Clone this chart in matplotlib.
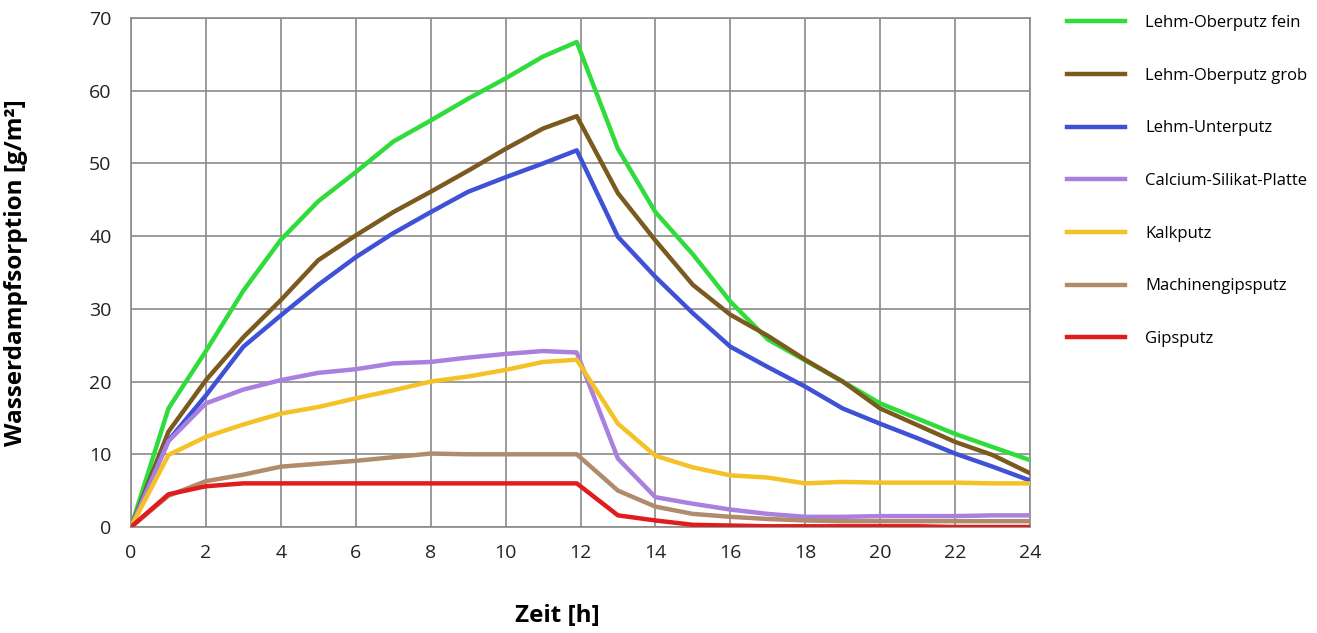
import matplotlib
matplotlib.use("Agg")
import matplotlib.pyplot as plt

hours = [0, 1, 2, 3, 4, 5, 6, 7, 8, 9, 10, 11, 11.9, 13, 14, 15, 16, 17, 18, 19, 20, 21, 22, 23, 24]

lehm_ober_fein = [0, 16.3, 24.2, 32.5, 39.5, 44.8, 48.8, 53.0, 55.9, 58.9, 61.7, 64.7, 66.7,
                  52.0, 43.3, 37.5, 31.0, 25.8, 22.9, 20.0, 17.0, 14.9, 12.8, 11.0, 9.2]
lehm_ober_grob = [0, 13.1, 20.2, 26.1, 31.2, 36.7, 40.1, 43.3, 46.1, 49.0, 52.0, 54.8, 56.5,
                  45.9, 39.4, 33.3, 29.2, 26.3, 23.0, 20.0, 16.3, 14.0, 11.7, 9.9, 7.4]
lehm_unter = [0, 11.9, 18.1, 24.8, 29.1, 33.3, 37.1, 40.4, 43.3, 46.1, 48.1, 50.0, 51.8,
              39.9, 34.4, 29.4, 24.8, 22.0, 19.3, 16.3, 14.2, 12.2, 10.1, 8.3, 6.4]
calcium_silikat = [0, 11.8, 17.0, 18.9, 20.2, 21.2, 21.7, 22.5, 22.7, 23.3, 23.8, 24.2, 24.0,
                   9.4, 4.1, 3.2, 2.4, 1.8, 1.4, 1.4, 1.5, 1.5, 1.5, 1.6, 1.6]
kalkputz = [0, 9.9, 12.4, 14.1, 15.6, 16.5, 17.7, 18.8, 20.0, 20.7, 21.6, 22.7, 23.0,
            14.2, 9.8, 8.2, 7.1, 6.8, 6.0, 6.2, 6.1, 6.1, 6.1, 6.0, 6.0]
machinengips = [0, 4.3, 6.3, 7.2, 8.3, 8.7, 9.1, 9.6, 10.1, 10.0, 10.0, 10.0, 10.0,
                5.0, 2.8, 1.8, 1.4, 1.1, 0.9, 0.8, 0.8, 0.8, 0.8, 0.8, 0.8]
gipsputz = [0, 4.5, 5.6, 6.0, 6.0, 6.0, 6.0, 6.0, 6.0, 6.0, 6.0, 6.0, 6.0,
            1.6, 0.9, 0.3, 0.2, 0.1, 0.1, 0.1, 0.1, 0.1, 0.0, 0.0, 0.0]

labels = ["Lehm-Oberputz fein", "Lehm-Oberputz grob", "Lehm-Unterputz",
          "Calcium-Silikat-Platte", "Kalkputz", "Machinengipsputz", "Gipsputz"]
series = [lehm_ober_fein, lehm_ober_grob, lehm_unter, calcium_silikat, kalkputz, machinengips, gipsputz]
colors = ["#2fdc3c", "#7a5a1f", "#3f52d6", "#a97fe0", "#f4c226", "#b08b6c", "#e01c1c"]

xticks = list(range(0, 25, 2))
yticks = list(range(0, 71, 10))

plt.rcParams['font.family'] = ['Open Sans', 'DejaVu Sans']

fig = plt.figure(figsize=(13.17, 6.33), dpi=100)
ax = fig.add_axes([131/1317, 1-527/633, (1030-131)/1317, (527-18)/633])

for ys, c, lab in zip(series, colors, labels):
    ax.plot(hours, ys, color=c, lw=3.2, label=lab, solid_joinstyle='round', zorder=3)

ax.set_xlim(0, 24)
ax.set_ylim(0, 70)
ax.set_xticks(xticks)
ax.set_yticks(yticks)
ax.grid(True, color="#8a8a8a", lw=1.2, zorder=0)
for s in ax.spines.values():
    s.set_color("#8a8a8a")
    s.set_linewidth(1.2)
ax.tick_params(length=0, labelsize=14, pad=12, colors="#222222")
ax.tick_params(axis='y', pad=14)

ax.set_ylabel("Wasserdampfsorption [g/m²]", fontsize=17.5, fontweight='bold')
ax.yaxis.set_label_coords((28-131)/899, 0.5)
fig.text(557/1317, 1-616/633, "Zeit [h]", fontsize=17.5, fontweight='bold', ha='center', va='center')

handles, labs = ax.get_legend_handles_labels()
fig.legend(handles, labs, loc='upper left', bbox_to_anchor=(1052/1317, 1-0/633),
           frameon=False, fontsize=12, handlelength=3.5, handletextpad=1.2,
           labelspacing=2.2)

fig.savefig("out.png", dpi=100)
